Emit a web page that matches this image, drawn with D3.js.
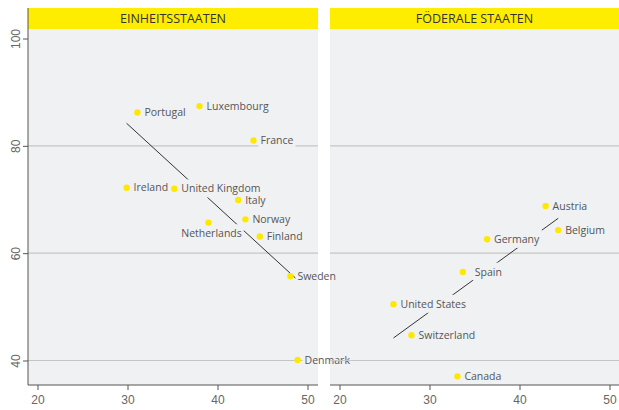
<!DOCTYPE html>
<html lang="de">
<head>
<meta charset="UTF-8">
<title>Einheitsstaaten / Föderale Staaten</title>
<script src="https://cdn.jsdelivr.net/npm/d3@7"></script>
<style>
  body { margin: 0; background: #fff; }
  svg { font-family: "Open Sans", "Noto Sans", sans-serif; }
  .tick text { fill: #666; font-size: 12px; font-variant-numeric: oldstyle-nums; }
  .tick line, .domain { stroke: #555; }
  .lbl { fill: #555; font-size: 10.5px; }
  .head { fill: #333; font-size: 12.5px; }
</style>
</head>
<body>
<script>
  // Einheitsstaaten
  var unitaryNames = ["Portugal","Luxembourg","France","Ireland","United Kingdom","Italy","Norway","Netherlands","Finland","Sweden","Denmark"];
  var unitaryX = [31.1, 38.0, 44.0, 29.9, 35.2, 42.3, 43.1, 39.0, 44.7, 48.1, 48.9];
  var unitaryY = [86.2, 87.4, 81.0, 72.2, 72.0, 69.9, 66.3, 65.7, 63.1, 55.7, 40.1];
  var unitaryTrend = [[29.9, 84.2], [48.9, 55.0]];

  // Föderale Staaten
  var federalNames = ["Austria","Belgium","Germany","Spain","United States","Switzerland","Canada"];
  var federalX = [42.9, 44.3, 36.4, 33.7, 26.0, 28.0, 33.1];
  var federalY = [68.8, 64.3, 62.6, 56.5, 50.5, 44.7, 37.05];
  var federalTrend = [[26.0, 44.2], [44.3, 66.5]];

  var panelTitles = ["EINHEITSSTAATEN", "FÖDERALE STAATEN"];
  var xTicks = [20, 30, 40, 50];
  var yTicks = [40, 60, 80, 100];
  var gridTicks = [40, 60, 80];

  // Label placement tweaks (dx, dy, anchor)
  var labelPos = {
    "Netherlands": [3, 11, "middle"],
    "Spain": [12, 0, "start"]
  };

  var W = 619, H = 410;
  var topY = 8, headH = 21, bottomY = 385;
  var panels = [
    { x0: 28, x1: 318, title: panelTitles[0], names: unitaryNames, xs: unitaryX, ys: unitaryY, trend: unitaryTrend },
    { x0: 330, x1: 619, title: panelTitles[1], names: federalNames, xs: federalX, ys: federalY, trend: federalTrend }
  ];

  var svg = d3.select("body").append("svg")
    .attr("width", W).attr("height", H);

  var y = d3.scaleLinear().domain([40, 100]).range([360.5, 38.5]);

  // backgrounds first
  panels.forEach(function(p, i) {
    p.x = d3.scaleLinear().domain([20, 50]).range([p.x0 + 9.5, p.x0 + 279.5]);
    svg.append("rect")
      .attr("x", p.x0).attr("y", topY + headH)
      .attr("width", p.x1 - p.x0).attr("height", bottomY - topY - headH)
      .attr("fill", "#f0f1f3");
    svg.append("clipPath").attr("id", "clip" + i)
      .append("rect")
      .attr("x", p.x0).attr("y", topY + headH)
      .attr("width", p.x1 - p.x0).attr("height", bottomY - topY - headH);
  });

  panels.forEach(function(p, i) {
    var g = svg.append("g");

    // gridlines
    g.selectAll(".grid").data(gridTicks).enter().append("line")
      .attr("x1", p.x0).attr("x2", p.x1)
      .attr("y1", d => y(d)).attr("y2", d => y(d))
      .attr("stroke", "#c6c6c6").attr("stroke-width", 1.2);

    // header
    g.append("rect")
      .attr("x", p.x0).attr("y", topY)
      .attr("width", p.x1 - p.x0).attr("height", headH)
      .attr("fill", "#ffed00");
    g.append("text").attr("class", "head")
      .attr("x", (p.x0 + p.x1) / 2).attr("y", topY + headH / 2)
      .attr("text-anchor", "middle").attr("dy", "0.36em")
      .text(p.title);

    // trend line
    g.append("line")
      .attr("x1", p.x(p.trend[0][0])).attr("y1", y(p.trend[0][1]))
      .attr("x2", p.x(p.trend[1][0])).attr("y2", y(p.trend[1][1]))
      .attr("stroke", "#333").attr("stroke-width", 1);

    var data = p.names.map(function(n, k) { return { name: n, x: p.xs[k], y: p.ys[k] }; });

    // labels with background that breaks the trend line
    var bgLayer = g.append("g").attr("clip-path", "url(#clip" + i + ")");
    var txtLayer = g.append("g");
    data.forEach(function(d) {
      var pos = labelPos[d.name] || [7, 0, "start"];
      var t = txtLayer.append("text").attr("class", "lbl")
        .attr("x", p.x(d.x) + pos[0]).attr("y", y(d.y) + pos[1])
        .attr("dy", "0.35em").attr("text-anchor", pos[2])
        .text(d.name);
      var bb = t.node().getBBox();
      bgLayer.append("rect")
        .attr("x", bb.x - 2).attr("y", bb.y - 2)
        .attr("width", bb.width + 4).attr("height", bb.height + 4)
        .attr("fill", "#f0f1f3");
    });

    // dots
    g.selectAll(".dot").data(data).enter().append("circle")
      .attr("cx", d => p.x(d.x)).attr("cy", d => y(d.y))
      .attr("r", 3.2).attr("fill", "#ffe800");

    // x axis
    g.append("line")
      .attr("x1", p.x0).attr("x2", p.x1)
      .attr("y1", bottomY).attr("y2", bottomY)
      .attr("stroke", "#555");
    var xa = g.append("g").attr("transform", "translate(0," + bottomY + ")")
      .call(d3.axisBottom(p.x).tickValues(xTicks).tickSize(5).tickPadding(5));
    xa.select(".domain").remove();
  });

  // y axis (left panel only)
  var ya = svg.append("g").attr("transform", "translate(28,0)")
    .call(d3.axisLeft(y).tickValues(yTicks).tickSize(5).tickSizeOuter(0));
  ya.select(".domain").remove();
  ya.selectAll(".tick text")
    .attr("x", 0)
    .attr("text-anchor", "middle")
    .attr("transform", "translate(-12,0) rotate(-90)")
    .attr("dy", "0.35em");
  svg.append("line")
    .attr("x1", 28).attr("x2", 28).attr("y1", topY).attr("y2", bottomY)
    .attr("stroke", "#555");
</script>
</body>
</html>
